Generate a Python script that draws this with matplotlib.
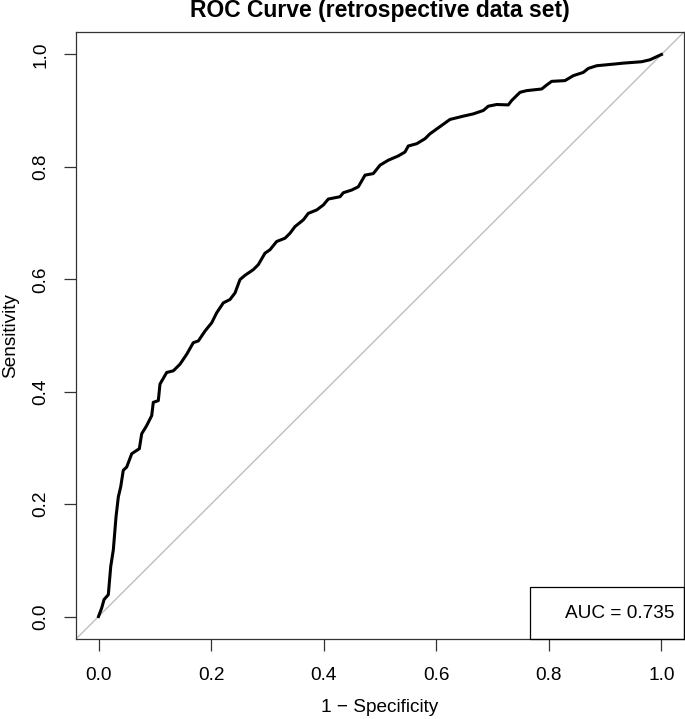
import numpy as np
import matplotlib
matplotlib.use("Agg")
import matplotlib.pyplot as plt
from matplotlib.patches import Rectangle

plt.rcParams['font.family'] = ['Liberation Sans', 'DejaVu Sans']

# ROC curve points (1 - specificity, sensitivity)
fpr = [0.0, 0.0057, 0.0098, 0.0174, 0.0217, 0.0263, 0.0311, 0.0352, 0.0394, 0.0440,
       0.0501, 0.0590, 0.0725, 0.0767, 0.0856, 0.0945, 0.0973, 0.1062, 0.1092, 0.1211,
       0.1329, 0.1448, 0.1567, 0.1684, 0.1773, 0.1892, 0.2011, 0.2099, 0.2217, 0.2336,
       0.2425, 0.2513, 0.2602, 0.2750, 0.2838, 0.2957, 0.3046, 0.3165, 0.3313, 0.3401,
       0.3490, 0.3638, 0.3726, 0.3876, 0.3993, 0.4082, 0.4290, 0.4348, 0.4497, 0.4615,
       0.4734, 0.4881, 0.5000, 0.5147, 0.5325, 0.5444, 0.5503, 0.5652, 0.5799, 0.5888,
       0.6243, 0.6480, 0.6657, 0.6835, 0.6924, 0.7073, 0.7279, 0.7339, 0.7487, 0.7606,
       0.7872, 0.7961, 0.8050, 0.8286, 0.8433, 0.8611, 0.8700, 0.8849, 0.9144, 0.9321,
       0.9648, 0.9796, 0.9885, 1.0]
tpr = [0.0, 0.0154, 0.0301, 0.0389, 0.0890, 0.1186, 0.1775, 0.2129, 0.2306, 0.2602,
       0.2660, 0.2897, 0.2986, 0.3251, 0.3398, 0.3575, 0.3811, 0.3841, 0.4136, 0.4342,
       0.4372, 0.4490, 0.4667, 0.4873, 0.4903, 0.5080, 0.5227, 0.5404, 0.5581, 0.5641,
       0.5758, 0.5995, 0.6071, 0.6172, 0.6260, 0.6465, 0.6526, 0.6673, 0.6731, 0.6819,
       0.6938, 0.7057, 0.7173, 0.7234, 0.7322, 0.7428, 0.7469, 0.7540, 0.7588, 0.7646,
       0.7853, 0.7881, 0.8030, 0.8119, 0.8195, 0.8265, 0.8372, 0.8412, 0.8501, 0.8589,
       0.8844, 0.8903, 0.8943, 0.9004, 0.9080, 0.9110, 0.9103, 0.9181, 0.9327, 0.9357,
       0.9386, 0.9457, 0.9522, 0.9535, 0.9623, 0.9681, 0.9752, 0.9800, 0.9828, 0.9846,
       0.9871, 0.9906, 0.9947, 1.0]
auc = 0.735
ticks = [0.0, 0.2, 0.4, 0.6, 0.8, 1.0]
tick_labels = ["0.0", "0.2", "0.4", "0.6", "0.8", "1.0"]

fig = plt.figure(figsize=(6.85, 7.19), dpi=100)
ax = fig.add_axes([76 / 685, 80 / 719, 608 / 685, 607 / 719])

ax.axline((0, 0), (1, 1), color="#bebebe", lw=1.0, zorder=1)
ax.plot(fpr, tpr, color="black", lw=2.2, zorder=3)

ax.set_xlim(-0.04, 1.04)
ax.set_ylim(-0.04, 1.04)
ax.set_xticks(ticks)
ax.set_xticklabels(tick_labels)
ax.set_yticks(ticks)
ax.set_yticklabels(tick_labels)
for lab in ax.get_yticklabels():
    lab.set_rotation(90)
    lab.set_va("center")
ax.tick_params(axis="x", length=8.6, width=0.9, pad=11.5, labelsize=13.7, color="#333333")
ax.tick_params(axis="y", length=8.6, width=0.9, pad=10.6, labelsize=13.7, color="#333333")
for s in ax.spines.values():
    s.set_linewidth(0.9)
    s.set_color("#333333")

# legend box in the bottom right corner
ax.add_patch(Rectangle((0.7673, -0.04), 1.04 - 0.7673, 0.0523 + 0.04, fill=False,
                       edgecolor="black", lw=0.9, clip_on=False, zorder=4))
ax.text(1.0236, 0.005, "AUC = %.3f" % auc, ha="right", va="center", fontsize=13.7)

fig.text(380 / 685, 1 - 10 / 719, "ROC Curve (retrospective data set)", ha="center",
         va="center", fontsize=16.5, fontweight="bold")
fig.text(380 / 685, 1 - 708 / 719, "1 \u2212 Specificity", ha="center", va="center",
         fontsize=13.7)
fig.text(11 / 685, 1 - 336 / 719, "Sensitivity", ha="center", va="center",
         rotation=90, fontsize=13.7)

fig.savefig("out.png", dpi=100)
